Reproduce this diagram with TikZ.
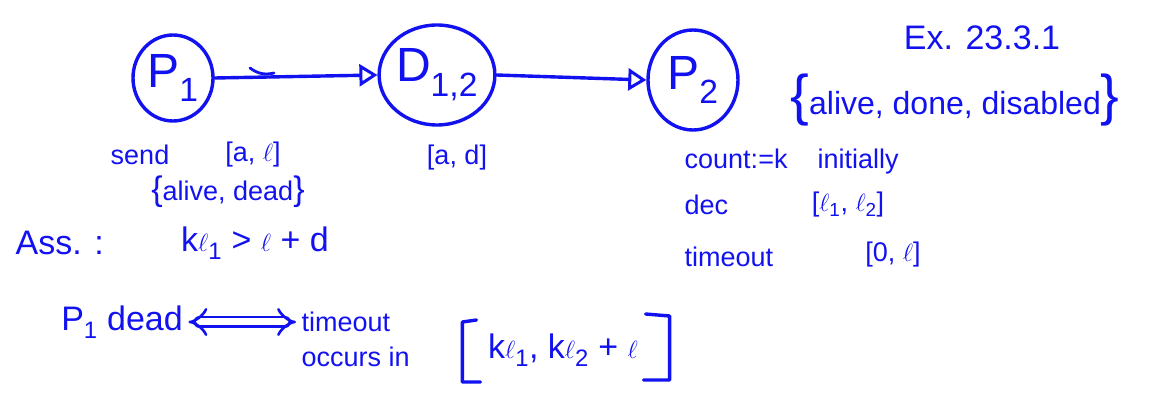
\documentclass[tikz,border=0pt]{standalone}
\usepackage{fontspec}
\setmainfont{Liberation Sans}
\usetikzlibrary{arrows.meta,shapes.geometric}
\definecolor{ink}{RGB}{18,18,240}
\tikzset{
  proc/.style={draw, ellipse, inner sep=0pt, font=\fontsize{48}{52}\selectfont},
  lbl/.style={text=ink, inner sep=0pt, font=\fontsize{27}{31}\selectfont},
  big/.style={text=ink, inner sep=0pt, font=\fontsize{34}{38}\selectfont},
  flow/.style={-{Triangle[open,length=18pt,width=22pt,line width=3pt]}},
}
\begin{document}
\begin{tikzpicture}[x=1pt,y=-1pt,draw=ink,text=ink,line width=3.4pt,line cap=round,line join=round]
\useasboundingbox (0,0) rectangle (1149,395);
% processes
\node[proc, minimum width=80pt, minimum height=86pt] (p1) at (173,78) {P\textsubscript{1}};
\node[proc, minimum width=106pt, minimum height=100pt] (d12) at (437,75) {D\textsubscript{1,2}};
\node[proc, minimum width=90pt, minimum height=100pt] (p2) at (693,80) {P\textsubscript{2}};
\draw[flow] (p1.east) -- (d12.west);
\draw[flow] (d12.east) -- (p2.west);
\coordinate (t1) at (250,68);
\coordinate (t2) at (274,73);
\draw[line width=2.8pt] (t1) to[bend right=25] (t2);
% right side
\node[big] (ex) at (982,38) {Ex. 23.3.1};
\node[lbl, font=\fontsize{32}{36}\selectfont] (states) at (955,100) {{\fontsize{56}{56}\selectfont\{}alive, done, disabled{\fontsize{56}{56}\selectfont\}}};
\node[lbl, anchor=west] (count) at (683,162) {count:=k\hspace{30pt}initially};
\node[lbl, anchor=west] (dec) at (683,205) {dec};
\node[lbl] (decr) at (848,205) {[$\ell$\textsubscript{1}, $\ell$\textsubscript{2}]};
\node[lbl, anchor=west] (tmo) at (683,257) {timeout};
\node[lbl] (tmor) at (893,255) {[0, $\ell$]};
% P1 side
\node[lbl] (send) at (140,155) {send};
\node[lbl] (sendr) at (253,155) {[a, $\ell$]};
\node[lbl] (sendv) at (228,192) {{\fontsize{34}{34}\selectfont\{}alive, dead{\fontsize{34}{34}\selectfont\}}};
\node[lbl] (delay) at (457,158) {[a, d]};
\node[big, anchor=west] (ass) at (14,243) {Ass. :};
\node[big] (assr) at (255,243) {k$\ell$\textsubscript{1} > $\ell$ + d};
% bottom
\node[big] (pdead) at (122,322) {P\textsubscript{1} dead};
\node[lbl, anchor=west] (timeout) at (300,322) {timeout};
\node[lbl, anchor=west] (occurs) at (300,357) {occurs in};
\node[big] (range) at (563,350) {k$\ell$\textsubscript{1}, k$\ell$\textsubscript{2} + $\ell$};
\draw[double, double distance=7pt, line width=2.6pt, {Implies[]}-{Implies[]}, shorten <=4pt, shorten >=4pt] (pdead.east) -- (timeout.west);
\draw (range.west) ++(-6pt,-32pt) -- ++(-18pt,0) -- ++(0,60pt) -- ++(14pt,2pt);
\draw (range.east) ++(4pt,-30pt) -- ++(26pt,0) -- ++(0,64pt) -- ++(-24pt,2pt);
\end{tikzpicture}
\end{document}
